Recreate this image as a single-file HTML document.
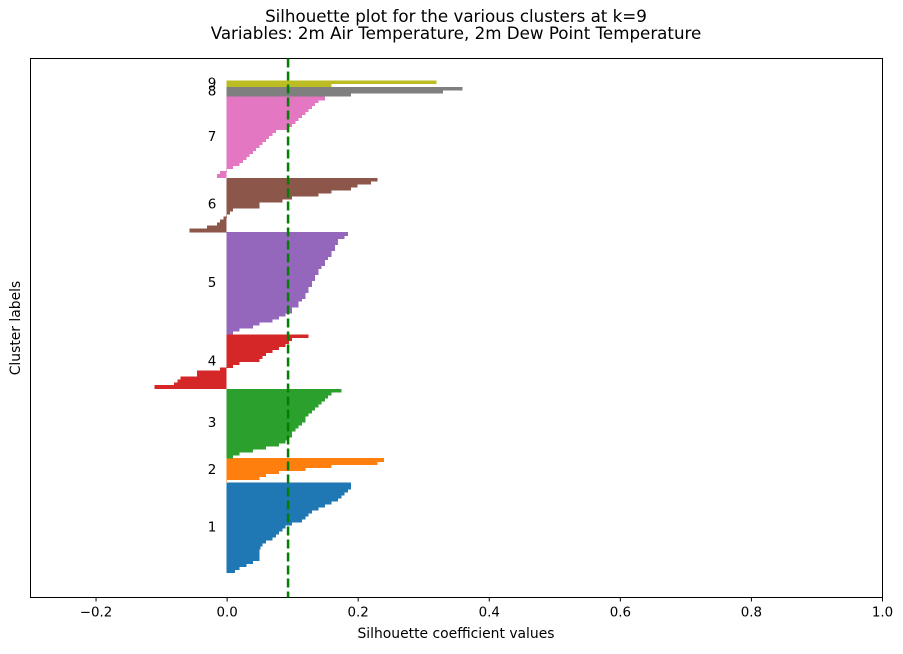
<!DOCTYPE html>
<html><head><meta charset="utf-8"><style>
body{margin:0;background:#fff;font-family:"DejaVu Sans","Liberation Sans",sans-serif}
svg text{font-family:"DejaVu Sans","Liberation Sans",sans-serif;fill:#000}
</style></head><body>
<svg id="chart" width="903" height="650" viewBox="0 0 903 650" xmlns="http://www.w3.org/2000/svg">
<text x="456" y="22" font-size="16.7" text-anchor="middle">Silhouette plot for the various clusters at k=9</text>
<text x="456" y="39" font-size="16.7" text-anchor="middle">Variables: 2m Air Temperature, 2m Dew Point Temperature</text>
<g id="marks" shape-rendering="crispEdges"></g>
<rect x="30.5" y="58.5" width="852" height="539" fill="none" stroke="#000" stroke-width="1"/>
<g id="xticks"></g>
<text x="456" y="638" font-size="13.9" text-anchor="middle">Silhouette coefficient values</text>
<text x="20" y="328" font-size="13.9" text-anchor="middle" transform="rotate(-90 20 328)">Cluster labels</text>
</svg>
<script>
const clusterLabels=["1","2","3","4","5","6","7","8","9"];
const clusterColors=["#1f77b4","#ff7f0e","#2ca02c","#d62728","#9467bd","#8c564b","#e377c2","#7f7f7f","#bcbd22"];
const c1=[0.013,0.02,0.03,0.04,0.05,0.05,0.05,0.05,0.052,0.055,0.06,0.07,0.075,0.08,0.085,0.09,0.1,0.115,0.12,0.125,0.13,0.14,0.15,0.16,0.17,0.175,0.18,0.185,0.19,0.19];
const c2=[0.0,0.05,0.06,0.08,0.12,0.16,0.23,0.24];
const c3=[0.01,0.02,0.04,0.06,0.08,0.09,0.095,0.1,0.1,0.105,0.11,0.115,0.12,0.12,0.125,0.13,0.135,0.14,0.145,0.15,0.155,0.16,0.175];
const c4=[-0.11,-0.08,-0.075,-0.07,-0.045,-0.045,-0.01,0.01,0.02,0.05,0.055,0.06,0.07,0.08,0.09,0.095,0.1,0.125];
const c5=[0.01,0.02,0.04,0.05,0.07,0.08,0.09,0.1,0.1,0.11,0.11,0.115,0.12,0.12,0.125,0.125,0.13,0.13,0.135,0.135,0.14,0.14,0.145,0.15,0.15,0.155,0.16,0.16,0.165,0.165,0.17,0.17,0.18,0.185];
const c6=[-0.057,-0.03,-0.015,-0.01,-0.005,0.0,0.005,0.01,0.05,0.05,0.085,0.1,0.14,0.16,0.19,0.2,0.22,0.23];
const c7=[-0.015,-0.01,0.0,0.01,0.02,0.025,0.03,0.035,0.04,0.045,0.05,0.055,0.06,0.065,0.07,0.075,0.095,0.1,0.105,0.11,0.115,0.12,0.125,0.13,0.135,0.14,0.15];
const c8=[0.19,0.33,0.36];
const c9=[0.16,0.32];
const clusters=[c1,c2,c3,c4,c5,c6,c7,c8,c9];
const meanScore=0.093;
const xTicks=[-0.2,0,0.2,0.4,0.6,0.8,1.0];
const xTickLabels=["\u22120.2","0.0","0.2","0.4","0.6","0.8","1.0"];

const X0=30.5,X1=882.5,Y0=597.5,Y1=58.5,xmin=-0.3,xmax=1.0,ymax=180.3;
const xs=v=>X0+(v-xmin)/(xmax-xmin)*(X1-X0);
const ys=u=>Y0-u/ymax*(Y0-Y1);
const NS="http://www.w3.org/2000/svg";
const marks=document.getElementById('marks');
let yLower=8.4;
clusters.forEach((vals,ci)=>{
  const g=document.createElementNS(NS,'g');
  
  
  vals.forEach((v,i)=>{
    const r=document.createElementNS(NS,'rect');
    
    
    const a=xs(0)-0.5,b=xs(v)-0.5;
    r.setAttribute('x',Math.min(a,b));r.setAttribute('width',Math.max(Math.abs(b-a),0.5));
    r.setAttribute('y',ys(yLower+i+1));r.setAttribute('height',ys(yLower+i)-ys(yLower+i+1)+0.8);
    r.setAttribute('fill',clusterColors[ci]);
    g.appendChild(r);
  });
  marks.appendChild(g);
  const t=document.createElementNS(NS,'text');
  
  
  t.setAttribute('x',xs(-0.023));t.setAttribute('y',ys(yLower+vals.length/2)+4);
  t.setAttribute('font-size','13.5');t.setAttribute('text-anchor','middle');
  t.textContent=clusterLabels[ci];
  marks.appendChild(t);
  yLower+=vals.length+0.2;
});
const ml=document.createElementNS(NS,'line');


ml.setAttribute('x1',xs(meanScore));ml.setAttribute('x2',xs(meanScore));
ml.setAttribute('y1',Y1);ml.setAttribute('y2',Y0);
ml.setAttribute('stroke','#007f00');ml.setAttribute('stroke-width','2.5');ml.setAttribute('stroke-dasharray','9,4');
document.getElementById('chart').insertBefore(ml,document.getElementById('xticks'));
const xt=document.getElementById('xticks');
xTicks.forEach((v,i)=>{
  const l=document.createElementNS(NS,'line');
  
  
  l.setAttribute('x1',xs(v));l.setAttribute('x2',xs(v));l.setAttribute('y1',Y0);l.setAttribute('y2',Y0+4);
  l.setAttribute('stroke','#000');
  xt.appendChild(l);
  const t=document.createElementNS(NS,'text');
  
  
  t.setAttribute('x',xs(v));t.setAttribute('y',Y0+19);t.setAttribute('font-size','13.4');t.setAttribute('text-anchor','middle');
  t.textContent=xTickLabels[i];
  xt.appendChild(t);
});
</script>
</body></html>
